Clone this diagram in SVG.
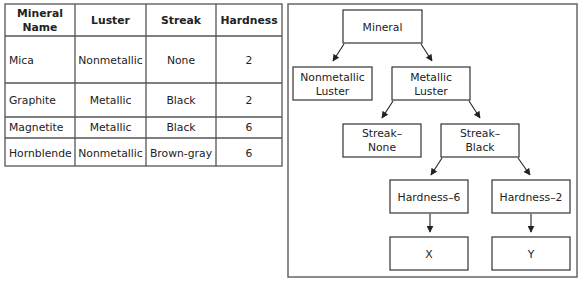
<svg xmlns="http://www.w3.org/2000/svg" width="580" height="282" viewBox="0 0 580 282">
<defs>
<marker id="ah" viewBox="0 0 10 10" refX="9" refY="5" markerWidth="7" markerHeight="7" orient="auto" markerUnits="userSpaceOnUse">
<path d="M0,0 L10,5 L0,10 z" fill="#222"/>
</marker>
<style>
text{font-family:"DejaVu Sans","Liberation Sans",sans-serif;font-size:10.8px;fill:#222}
.h{font-weight:bold;text-anchor:middle}
.c{text-anchor:middle}
.grid{stroke:#555;stroke-width:1.3;fill:none}
.box{fill:#fff;stroke:#333;stroke-width:1.2}
.frame{fill:#fff;stroke:#666;stroke-width:1.5}
.conn{stroke:#222;stroke-width:1.1;fill:none;marker-end:url(#ah)}
</style>
</defs>
<rect width="580" height="282" fill="#fff"/>
<g id="table">
<rect class="grid" x="5" y="4" width="277" height="162"/>
<line class="grid" x1="75" y1="4" x2="75" y2="166"/>
<line class="grid" x1="146" y1="4" x2="146" y2="166"/>
<line class="grid" x1="216" y1="4" x2="216" y2="166"/>
<line class="grid" x1="5" y1="36" x2="282" y2="36"/>
<line class="grid" x1="5" y1="83" x2="282" y2="83"/>
<line class="grid" x1="5" y1="117" x2="282" y2="117"/>
<line class="grid" x1="5" y1="138" x2="282" y2="138"/>
<text class="h" x="40" y="17">Mineral</text>
<text class="h" x="40" y="31">Name</text>
<text class="h" x="110.5" y="24">Luster</text>
<text class="h" x="181" y="24">Streak</text>
<text class="h" x="249" y="24">Hardness</text>
<text x="9" y="64">Mica</text>
<text class="c" x="110.5" y="64">Nonmetallic</text>
<text class="c" x="181" y="64">None</text>
<text class="c" x="249" y="64">2</text>
<text x="9" y="104">Graphite</text>
<text class="c" x="110.5" y="104">Metallic</text>
<text class="c" x="181" y="104">Black</text>
<text class="c" x="249" y="104">2</text>
<text x="9" y="131">Magnetite</text>
<text class="c" x="110.5" y="131">Metallic</text>
<text class="c" x="181" y="131">Black</text>
<text class="c" x="249" y="131">6</text>
<text x="9" y="157">Hornblende</text>
<text class="c" x="110.5" y="157">Nonmetallic</text>
<text class="c" x="181" y="157">Brown-gray</text>
<text class="c" x="249" y="157">6</text>
</g>
<rect id="panel" class="frame" x="288" y="4" width="289" height="273"/>
<g id="connectors">
<line class="conn" x1="344" y1="44" x2="333" y2="61"/>
<line class="conn" x1="421" y1="44" x2="432" y2="61"/>
<line class="conn" x1="393" y1="101" x2="382" y2="118"/>
<line class="conn" x1="469" y1="101" x2="480" y2="118"/>
<line class="conn" x1="442" y1="158" x2="431" y2="175"/>
<line class="conn" x1="518" y1="158" x2="530" y2="175"/>
<line class="conn" x1="430" y1="214" x2="430" y2="232"/>
<line class="conn" x1="531" y1="214" x2="531" y2="232"/>
</g>
<g id="mineral"><rect class="box" x="343" y="10" width="79" height="33"/><text class="c" x="382.5" y="31">Mineral</text></g>
<g id="nonmetallic"><rect class="box" x="293" y="67" width="79" height="33"/><text class="c" x="332.5" y="81">Nonmetallic</text><text class="c" x="332.5" y="95">Luster</text></g>
<g id="metallic"><rect class="box" x="392" y="67" width="78" height="33"/><text class="c" x="431" y="81">Metallic</text><text class="c" x="431" y="95">Luster</text></g>
<g id="streak-none"><rect class="box" x="343" y="124" width="78" height="33"/><text class="c" x="382" y="137">Streak–</text><text class="c" x="382" y="151">None</text></g>
<g id="streak-black"><rect class="box" x="441" y="124" width="78" height="33"/><text class="c" x="480" y="137">Streak–</text><text class="c" x="480" y="151">Black</text></g>
<g id="hardness6"><rect class="box" x="390" y="180" width="78" height="33"/><text class="c" x="429" y="201">Hardness–6</text></g>
<g id="hardness2"><rect class="box" x="492" y="180" width="78" height="33"/><text class="c" x="531" y="201">Hardness–2</text></g>
<g id="x"><rect class="box" x="390" y="237" width="78" height="33"/><text class="c" x="429" y="258">X</text></g>
<g id="y"><rect class="box" x="492" y="237" width="78" height="33"/><text class="c" x="531" y="258">Y</text></g>
</svg>
